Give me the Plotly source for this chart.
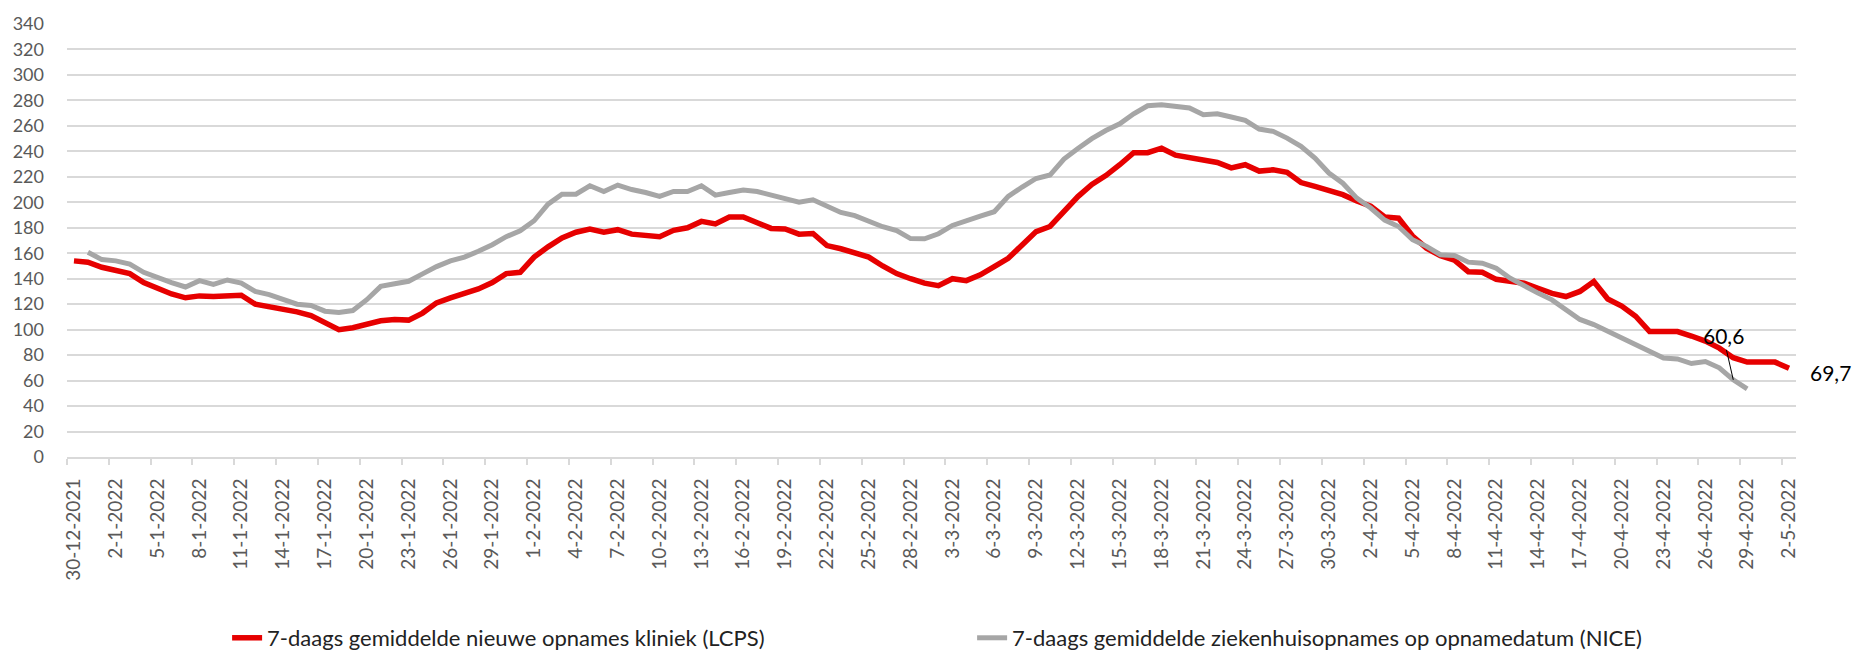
import pandas as pd
import plotly.graph_objects as go

start_date = "2021-12-30"
n_days = 124
dates = pd.date_range(start_date, periods=n_days, freq="D")

lcps = [154, 153, 149, 147, 144, 137, 132, 128, 125, 126.5,
        126, 127, 127, 120, 118, 116.5, 114, 111, 106, 100,
        101.5, 104.5, 107, 108, 107.5, 113, 121, 125, 128, 132,
        137, 144, 145, 157, 165, 172, 176.5, 179, 176.5, 178.5,
        175, 173.5, 173, 178, 180, 185, 183, 188.5, 188.5, 184,
        179.5, 179, 175, 175.5, 166, 163.5, 160, 157, 150, 144,
        140, 136.5, 134.5, 140, 138.5, 143, 149.5, 156, 166.5, 177,
        181, 192.5, 204.5, 214, 221, 229.5, 239, 239, 242.5, 237,
        235, 233.4, 231.3, 227, 229.5, 224.5, 225.5, 223.5, 215.5, 212.5,
        209.5, 206, 201, 197, 188.5, 187.5, 173.5, 164, 158, 154.5,
        145.5, 145, 139.5, 138.5, 136.5, 132.5, 128.5, 126, 130, 137.8,
        124, 118.5, 110.5, 98.5, 98.5, 98.5, 95, 91, 85.5, 78,
        74.5, 74.5, 74.5, 69.7]

nice = [None, 160.7, 155, 154, 151.5, 145, 140.5, 137, 133.5, 138.5,
        135.5, 139, 136.5, 130, 127.5, 124, 120, 119, 114.5, 113.5,
        115, 123.5, 134, 136, 138, 143.8, 149.5, 154, 157, 161.5,
        166.7, 173, 177.7, 185.5, 198.5, 206.4, 206.4, 213, 208.5, 213.5,
        210, 207.7, 204.6, 208.5, 208.5, 213, 205.6, 207.7, 209.6, 208.5,
        206, 203.3, 200, 202, 197.3, 192, 189.5, 185, 180.8, 177.7,
        171.5, 171.3, 175.3, 181.8, 186, 189.2, 192.6, 204.6, 212, 218.7,
        221.4, 234, 242.3, 250, 256.4, 261.7, 269.5, 275.8, 276.6, 275.5,
        274, 268.8, 269.5, 267, 264.3, 257.5, 255.7, 250.4, 244, 234.7,
        223, 215, 203.3, 195.5, 186, 181, 170.6, 165.4, 158.8, 158.3,
        153, 152.2, 148.3, 140.4, 134, 128.7, 123.4, 115.6, 108, 104,
        98.6, 93.4, 88.2, 83, 77.8, 77, 73.4, 75, 70, 60.6,
        53.5, None, None, None]

name_lcps = "7-daags gemiddelde nieuwe opnames kliniek (LCPS)"
name_nice = "7-daags gemiddelde ziekenhuisopnames op opnamedatum (NICE)"
label_lcps = "69,7"
label_nice = "60,6"

FONT = "Lato, 'Open Sans', sans-serif"
RED = "#E60000"
GREY = "#A6A6A6"

fig = go.Figure()
fig.add_trace(go.Scatter(x=dates, y=lcps, mode="lines", name=name_lcps,
                         line=dict(color=RED, width=5.5)))
fig.add_trace(go.Scatter(x=dates, y=nice, mode="lines", name=name_nice,
                         line=dict(color=GREY, width=5)))

# data labels
fig.add_annotation(x=dates[-1], y=lcps[-1], text=label_lcps, showarrow=False,
                   xanchor="left", yanchor="middle", xshift=19, yshift=-4,
                   font=dict(family=FONT, size=21, color="#000000"))
fig.add_annotation(x=dates[119], y=nice[119], text=label_nice, showarrow=True,
                   arrowhead=0, arrowwidth=1, arrowcolor="#000000",
                   ax=-10, ay=-44, standoff=0,
                   font=dict(family=FONT, size=21, color="#000000"))

half_day = pd.Timedelta(hours=12)
fig.update_layout(
    width=1870, height=653, autosize=False,
    paper_bgcolor="white", plot_bgcolor="white",
    margin=dict(l=67, r=74, t=24, b=196, autoexpand=False),
    font=dict(family=FONT, size=18, color="#595959"),
    showlegend=True,
    legend=dict(orientation="h", x=0.0926, xref="paper",
                y=0.023, yref="container", xanchor="left", yanchor="middle",
                font=dict(family=FONT, size=22, color="#222222"),
                entrywidth=700, entrywidthmode="pixels", itemwidth=30,
                bgcolor="rgba(0,0,0,0)"),
    xaxis=dict(
        type="date", automargin=False,
        range=[dates[0] - half_day, dates[-1] + half_day],
        tickmode="linear", tick0=dates[0], dtick=3 * 86400000,
        tickformat="%-d-%-m-%Y", tickangle=-90,
        ticks="", ticklabelstandoff=12,
        showgrid=False, zeroline=False,
        showline=True, linecolor="#D9D9D9", linewidth=2,
        tickfont=dict(family=FONT, size=19, color="#595959"),
        minor=dict(ticks="outside", tick0=dates[0] - half_day, dtick=3 * 86400000,
                   ticklen=6, tickcolor="#D9D9D9", tickwidth=1.5, showgrid=False),
    ),
    yaxis=dict(
        automargin=False,
        range=[0, 340], tickmode="linear", tick0=0, dtick=20,
        showgrid=True, gridcolor="#D9D9D9", gridwidth=2,
        zeroline=False, showline=False, ticks="", ticklabelstandoff=22,
        tickfont=dict(family=FONT, size=18, color="#595959"),
    ),
)

fig.write_html("out.html", config={"displayModeBar": False},
               post_script="document.body.style.margin='0';")
